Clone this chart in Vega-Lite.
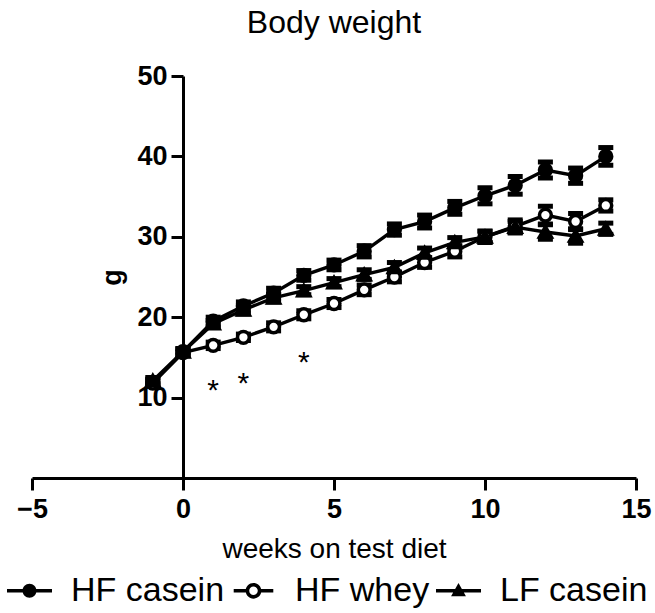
{
  "$schema": "https://vega.github.io/schema/vega-lite/v6.json",
  "width": 604,
  "height": 402,
  "autosize": {"type": "none"},
  "padding": {"left": 32, "top": 76, "right": 19, "bottom": 135},
  "background": "white",
  "title": {"text": "Body weight", "fontSize": 32, "font": "Liberation Sans", "fontWeight": "normal", "anchor": "middle", "offset": 22, "color": "black"},
  "config": {"view": {"stroke": null}, "font": "Liberation Sans"},
  "resolve": {"scale": {"shape": "independent", "fill": "independent"}, "legend": {"shape": "independent", "fill": "independent"}},
  "datasets": {
    "bw": [
      {"series": "HF casein", "week": -1, "mean": 11.9, "err": 0.4},
      {"series": "HF casein", "week": 0, "mean": 15.7, "err": 0.4},
      {"series": "HF casein", "week": 1, "mean": 19.5, "err": 0.5},
      {"series": "HF casein", "week": 2, "mean": 21.4, "err": 0.5},
      {"series": "HF casein", "week": 3, "mean": 23.0, "err": 0.6},
      {"series": "HF casein", "week": 4, "mean": 25.2, "err": 0.6},
      {"series": "HF casein", "week": 5, "mean": 26.5, "err": 0.6},
      {"series": "HF casein", "week": 6, "mean": 28.2, "err": 0.7},
      {"series": "HF casein", "week": 7, "mean": 30.9, "err": 0.7},
      {"series": "HF casein", "week": 8, "mean": 31.9, "err": 0.8},
      {"series": "HF casein", "week": 9, "mean": 33.6, "err": 0.8},
      {"series": "HF casein", "week": 10, "mean": 35.1, "err": 1.0},
      {"series": "HF casein", "week": 11, "mean": 36.4, "err": 1.1},
      {"series": "HF casein", "week": 12, "mean": 38.3, "err": 1.0},
      {"series": "HF casein", "week": 13, "mean": 37.6, "err": 0.95},
      {"series": "HF casein", "week": 14, "mean": 40.0, "err": 1.1},
      {"series": "HF whey", "week": -1, "mean": 11.8, "err": 0.4},
      {"series": "HF whey", "week": 0, "mean": 15.6, "err": 0.4},
      {"series": "HF whey", "week": 1, "mean": 16.5, "err": 0.4},
      {"series": "HF whey", "week": 2, "mean": 17.5, "err": 0.4},
      {"series": "HF whey", "week": 3, "mean": 18.8, "err": 0.5},
      {"series": "HF whey", "week": 4, "mean": 20.3, "err": 0.5},
      {"series": "HF whey", "week": 5, "mean": 21.7, "err": 0.5},
      {"series": "HF whey", "week": 6, "mean": 23.4, "err": 0.6},
      {"series": "HF whey", "week": 7, "mean": 25.0, "err": 0.6},
      {"series": "HF whey", "week": 8, "mean": 26.8, "err": 0.6},
      {"series": "HF whey", "week": 9, "mean": 28.2, "err": 0.7},
      {"series": "HF whey", "week": 10, "mean": 30.0, "err": 0.7},
      {"series": "HF whey", "week": 11, "mean": 31.3, "err": 0.8},
      {"series": "HF whey", "week": 12, "mean": 32.7, "err": 1.1},
      {"series": "HF whey", "week": 13, "mean": 31.9, "err": 1.0},
      {"series": "HF whey", "week": 14, "mean": 33.9, "err": 0.7},
      {"series": "LF casein", "week": -1, "mean": 12.1, "err": 0.4},
      {"series": "LF casein", "week": 0, "mean": 15.7, "err": 0.4},
      {"series": "LF casein", "week": 1, "mean": 19.2, "err": 0.4},
      {"series": "LF casein", "week": 2, "mean": 20.9, "err": 0.5},
      {"series": "LF casein", "week": 3, "mean": 22.4, "err": 0.5},
      {"series": "LF casein", "week": 4, "mean": 23.3, "err": 0.5},
      {"series": "LF casein", "week": 5, "mean": 24.3, "err": 0.5},
      {"series": "LF casein", "week": 6, "mean": 25.3, "err": 0.6},
      {"series": "LF casein", "week": 7, "mean": 26.2, "err": 0.6},
      {"series": "LF casein", "week": 8, "mean": 28.0, "err": 0.6},
      {"series": "LF casein", "week": 9, "mean": 29.3, "err": 0.6},
      {"series": "LF casein", "week": 10, "mean": 30.0, "err": 0.7},
      {"series": "LF casein", "week": 11, "mean": 31.2, "err": 0.7},
      {"series": "LF casein", "week": 12, "mean": 30.6, "err": 0.9},
      {"series": "LF casein", "week": 13, "mean": 30.1, "err": 0.9},
      {"series": "LF casein", "week": 14, "mean": 31.0, "err": 0.7}
    ],
    "stars": [
      {"week": 1, "mean": 11.8, "label": "*"},
      {"week": 2, "mean": 12.7, "label": "*"},
      {"week": 4, "mean": 15.3, "label": "*"}
    ]
  },
  "encoding": {
    "x": {
      "field": "week", "type": "quantitative", "title": "weeks on test diet",
      "scale": {"domain": [-5, 15], "nice": false, "zero": false},
      "axis": {
        "values": [-5, 0, 5, 10, 15], "grid": false, "tickSize": 12, "tickWidth": 3, "tickColor": "black",
        "domainWidth": 3, "domainColor": "black", "labelFontSize": 27, "labelFontWeight": "bold", "labelColor": "black",
        "labelFlush": false, "labelOverlap": false, "labelPadding": 6,
        "title": "weeks on test diet", "titleFontSize": 28, "titleFontWeight": "normal", "titleColor": "black", "titlePadding": 13
      }
    },
    "y": {
      "field": "mean", "type": "quantitative", "title": "g",
      "scale": {"domain": [0, 50], "nice": false},
      "axis": {
        "values": [10, 20, 30, 40, 50], "grid": false, "offset": -151, "tickSize": 12, "tickWidth": 3, "tickColor": "black",
        "domainWidth": 3, "domainColor": "black", "labelFontSize": 27, "labelFontWeight": "bold", "labelColor": "black",
        "labelPadding": 4, "labelOverlap": false, "labelFlush": false,
        "title": "g", "titleFontSize": 27, "titleFontWeight": "bold", "titleColor": "black", "titlePadding": 10
      }
    }
  },
  "layer": [
    {
      "data": {"name": "bw"},
      "mark": {"type": "line", "color": "black", "strokeWidth": 3.4},
      "encoding": {
        "detail": {"field": "series"}
      }
    },
    {
      "data": {"name": "bw"},
      "mark": {"type": "errorbar", "color": "black", "opacity": 1, "rule": {"color": "black", "strokeWidth": 3.5, "opacity": 1}, "ticks": {"size": 15, "thickness": 5, "color": "black", "opacity": 1}},
      "encoding": {
        "yError": {"field": "err"},
        "detail": {"field": "series"}
      }
    },
    {
      "data": {"name": "bw"},
      "mark": {"type": "point", "filled": false, "stroke": "black", "strokeWidth": 3.5, "size": 140, "opacity": 1},
      "encoding": {
        "shape": {
          "field": "series", "type": "nominal", "legend": null,
          "scale": {"domain": ["HF casein", "HF whey", "LF casein"], "range": ["circle", "circle", "triangle-up"]}
        },
        "fill": {
          "field": "series", "type": "nominal", "legend": null,
          "scale": {"domain": ["HF casein", "HF whey", "LF casein"], "range": ["black", "white", "black"]}
        }
      }
    },
    {
      "data": {"name": "bw"},
      "transform": [{"filter": "datum.week > 99"}],
      "mark": {"type": "point", "filled": true, "color": "black", "strokeWidth": 0, "size": 2025, "opacity": 1},
      "encoding": {
        "shape": {
          "field": "series", "type": "nominal",
          "scale": {
            "domain": ["HF casein", "HF whey", "LF casein"],
            "range": [
              "M-1,-0.08L-0.28,-0.08L-0.28,0.08L-1,0.08Z M0.28,-0.08L1,-0.08L1,0.08L0.28,0.08Z M0.31,0A0.31,0.31,0,1,1,-0.31,0A0.31,0.31,0,1,1,0.31,0Z",
              "M-0.88,-0.08L-0.32,-0.08L-0.32,0.08L-0.88,0.08Z M0.32,-0.08L0.88,-0.08L0.88,0.08L0.32,0.08Z M0.35,0A0.35,0.35,0,1,1,-0.35,0A0.35,0.35,0,1,1,0.35,0Z M0.19,0A0.19,0.19,0,1,0,-0.19,0A0.19,0.19,0,1,0,0.19,0Z",
              "M-1,-0.08L1,-0.08L1,0.08L-1,0.08Z M0,-0.34L0.33,0.24L-0.33,0.24Z"
            ]
          },
          "legend": {
            "title": null, "orient": "none", "legendX": -25, "legendY": 492, "direction": "horizontal",
            "labelFontSize": 34, "labelColor": "black", "labelFont": "Liberation Sans", "labelLimit": 400,
            "symbolSize": 2025, "symbolStrokeWidth": 0, "symbolFillColor": "black", "symbolOpacity": 1,
            "labelOffset": 19, "columnPadding": 6, "padding": 0
          }
        }
      }
    },
    {
      "data": {"name": "stars"},
      "mark": {"type": "text", "fontSize": 30, "color": "black", "baseline": "middle", "align": "center", "dy": 8},
      "encoding": {
        "text": {"field": "label"}
      }
    }
  ]
}
